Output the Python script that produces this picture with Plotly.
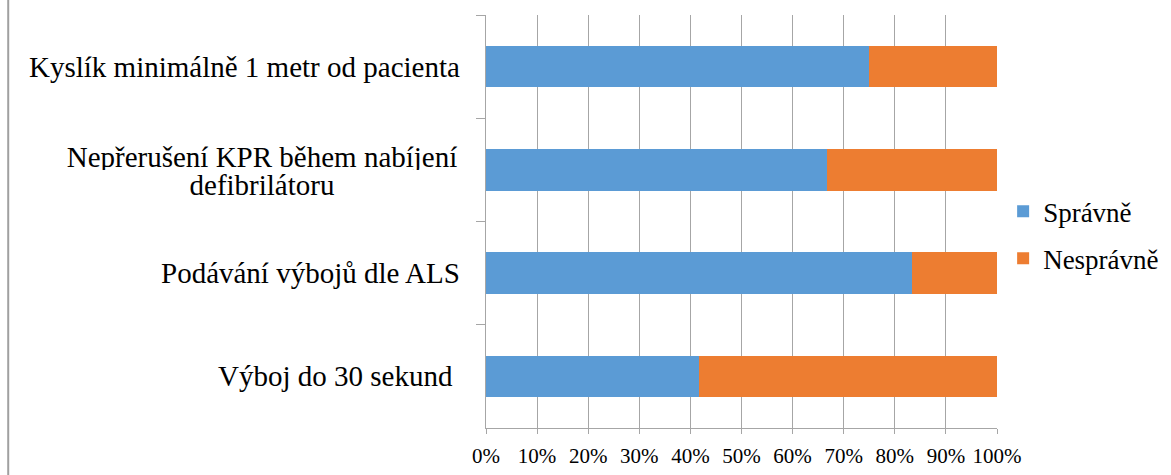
import plotly.graph_objects as go

# Survey items (top to bottom) and share of answers in percent
categories = [
    "Kyslík minimálně 1 metr od pacienta",
    "Nepřerušení KPR během nabíjení<br>defibrilátoru",
    "Podávání výbojů dle ALS",
    "Výboj do 30 sekund ",
]
spravne = [75.0, 66.7, 83.3, 41.7]
nespravne = [25.0, 33.3, 16.7, 58.3]
x_ticks = [0, 10, 20, 30, 40, 50, 60, 70, 80, 90, 100]
x_tick_labels = [f"{v}%" for v in x_ticks]

FONT = "'Liberation Serif', 'Times New Roman', Times, serif"
GRID = "#A6A6A6"
LABEL_SIZE = 29
LINE_STEP = 28  # tight line spacing for wrapped category labels

fig = go.Figure()
fig.add_trace(go.Bar(
    y=categories, x=spravne, orientation="h", name="Správně",
    marker=dict(color="#5B9BD5", line=dict(width=0)), legendgroup="a",
))
fig.add_trace(go.Bar(
    y=categories, x=nespravne, orientation="h", name="Nesprávně",
    marker=dict(color="#ED7D31", line=dict(width=0)), legendgroup="b",
))

# Category labels left of the axis; wrapped labels are drawn line by line,
# each centred in a fixed-width box so the lines share a common centre.
annotations = []
for c in categories:
    lines = c.split("<br>")
    if len(lines) == 1:
        annotations.append(dict(
            x=-0.046, xref="paper", y=c, yref="y", text=c, showarrow=False,
            xanchor="right", yanchor="middle",
            font=dict(family=FONT, size=LABEL_SIZE, color="black")))
    else:
        n = len(lines)
        for i, line in enumerate(lines):
            shift = (n - 1) / 2 * LINE_STEP - i * LINE_STEP - 1
            annotations.append(dict(
                x=-0.043, xref="paper", y=c, yref="y", text=line,
                showarrow=False, xanchor="right", yanchor="middle",
                width=400, height=LINE_STEP - 2, align="center",
                valign="middle", yshift=shift,
                font=dict(family=FONT, size=LABEL_SIZE, color="black")))

fig.update_layout(
    width=1171, height=475,
    margin=dict(l=486, r=174, t=15, b=47, autoexpand=False),
    paper_bgcolor="white", plot_bgcolor="white",
    barmode="stack", bargap=0.6,
    font=dict(family=FONT, color="black"),
    showlegend=True,
    legend=dict(
        x=1.012, xanchor="left", y=0.467, yanchor="middle",
        font=dict(family=FONT, size=27, color="black"),
        traceorder="grouped", tracegroupgap=9,
        bgcolor="rgba(0,0,0,0)",
    ),
    annotations=annotations,
    shapes=[dict(type="line", xref="paper", yref="paper",
                 x0=-0.935, x1=-0.935, y0=-0.2, y1=1.1,
                 line=dict(color="#A0A0A0", width=2))],
    xaxis=dict(
        range=[0, 100], tickvals=x_ticks, ticktext=x_tick_labels,
        showgrid=True, gridcolor=GRID, gridwidth=1,
        showline=True, linecolor=GRID, linewidth=1,
        ticks="outside", ticklen=5, tickcolor=GRID,
        tickfont=dict(family=FONT, size=21, color="black"),
        ticklabelstandoff=4, automargin=False,
        zeroline=False, fixedrange=True,
    ),
    yaxis=dict(
        categoryorder="array", categoryarray=categories,
        autorange="reversed",
        showticklabels=False, automargin=False,
        showline=True, linecolor=GRID, linewidth=1,
        ticks="outside", ticklen=9, tickcolor=GRID, tickson="boundaries",
        showgrid=False, zeroline=False,
    ),
)

fig.write_html("out.html")
